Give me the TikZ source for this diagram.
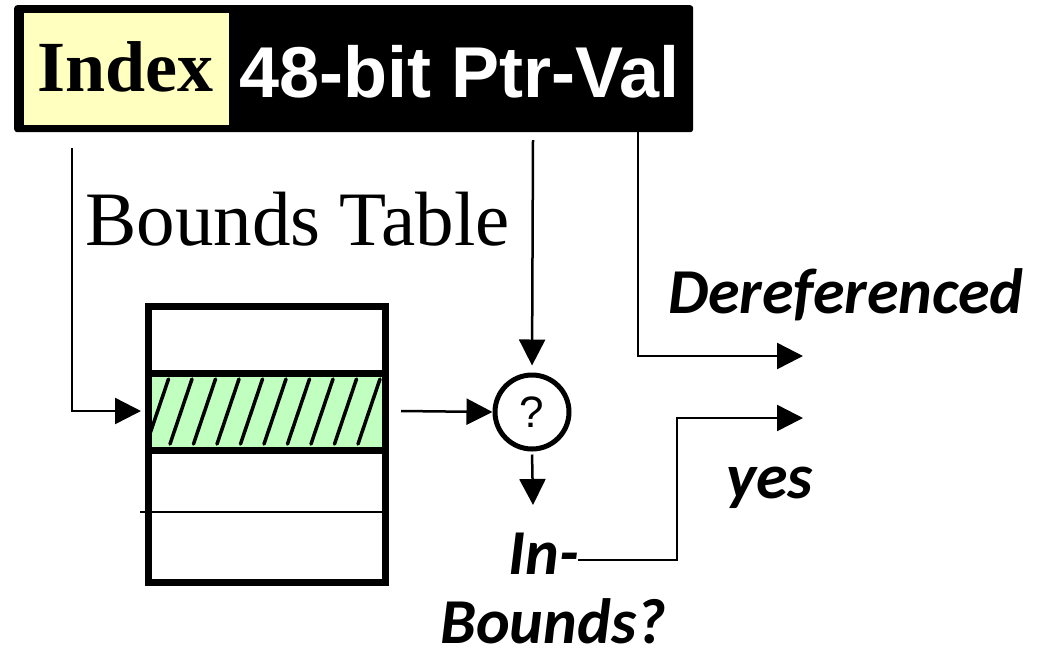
\documentclass[tikz,border=0pt]{standalone}
\usepackage{fontspec}
\setmainfont{Liberation Serif}
\newfontfamily\arialfont{Liberation Sans}
\newfontfamily\calfont{Carlito}
\usetikzlibrary{arrows.meta}
\definecolor{idxyellow}{RGB}{255,255,192}
\definecolor{rowgreen}{RGB}{192,255,192}
\begin{document}
\begin{tikzpicture}[x=1pt,y=-1pt,
  conn/.style={line width=2.5pt,-{Triangle[length=26pt,width=26pt]}},
  label/.style={anchor=base west,inner sep=0pt,font=\calfont\bfseries\itshape\fontsize{64}{64}\selectfont},
  plain/.style={anchor=base west,inner sep=0pt}]
\useasboundingbox (0,0) rectangle (1038,657);

% pointer word: index field + 48-bit value
\node[fill=black,rounded corners=3pt,minimum width=679pt,minimum height=127pt,inner sep=0pt,anchor=north west] (ptr) at (14,5) {};
\node[fill=idxyellow,minimum width=205pt,minimum height=112pt,inner sep=0pt,anchor=north west] (idx) at (24,13) {};
\node[plain,font=\bfseries\fontsize{72}{72}\selectfont] (idxtxt) at (37,91) {Index};
\node[plain,text=white,font=\arialfont\bfseries\fontsize{72}{72}\selectfont] (ptrtxt) at (239,97) {48-bit Ptr-Val};

% bounds table
\node[plain,font=\fontsize{77}{77}\selectfont] (bt) at (85,245) {Bounds Table};
\fill[rowgreen] (145,373) rectangle (382,450);
\begin{scope}
  \clip (145,376) rectangle (382,447);
  \foreach \k in {-1,...,8}
    \draw[line width=3.5pt,line cap=round] ({170+23.5*\k},444) -- ({192+23.5*\k},379);
\end{scope}
\draw[line width=7pt] (145,373) -- (382,373);
\draw[line width=7pt] (145,450) -- (382,450);
\draw[line width=2.5pt] (140,512) -- (382,512);
\node[draw,line width=7pt,minimum width=237pt,minimum height=276pt,inner sep=0pt,anchor=north west] (tbl) at (145,303) {};

% comparator
\node[circle,draw,line width=5pt,minimum size=74pt,inner sep=0pt,font=\arialfont\fontsize{44}{44}\selectfont] (q) at (532,412) {?};

% labels
\node[label] (deref) at (668,313) {Dereferenced};
\node[label] (yes) at (726,498) {yes};
\node[label] (inb) at (508,574) {In-};
\node[label] (bnd) at (440,643) {Bounds?};

% connectors
\coordinate (idxout) at (72,148);
\coordinate (tblin) at (141,411);
\coordinate (tblout) at (401,411);
\coordinate (ptrmid) at (533,140);
\coordinate (qout) at (533,505);
\coordinate (ptrright) at (638,132);
\coordinate (derefend) at (803,356);
\coordinate (instart) at (578,560);
\coordinate (inturn) at (677,418);
\coordinate (yesend) at (803,418);

\draw[conn] (idxout) |- (tblin);
\draw[conn] (tblout) -- (q.west);
\draw[conn,shorten >=7pt] (ptrmid) -- (q.north);
\draw[conn,shorten <=3pt] (q.south) -- (qout);
\draw[conn] (ptrright) |- (derefend);
\draw[conn] (instart) -| (inturn) -- (yesend);
\end{tikzpicture}
\end{document}
